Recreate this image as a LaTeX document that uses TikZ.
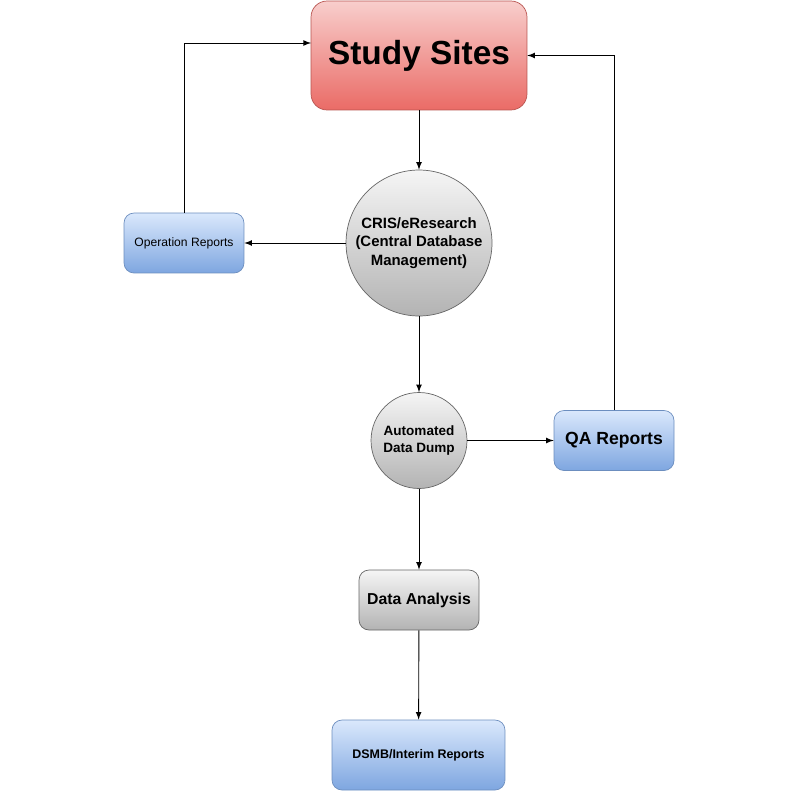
\documentclass[tikz,border=0pt]{standalone}
\usepackage{fontspec}
\setmainfont{Liberation Sans}
\usetikzlibrary{shapes,arrows,positioning,calc}

\definecolor{redtop}{HTML}{F8CECC}
\definecolor{redbot}{HTML}{EA6B66}
\definecolor{redline}{HTML}{B85450}
\definecolor{bluetop}{HTML}{DAE8FC}
\definecolor{bluebot}{HTML}{7EA6E0}
\definecolor{blueline}{HTML}{6C8EBF}
\definecolor{graytop}{HTML}{F5F5F5}
\definecolor{graybot}{HTML}{B3B3B3}
\definecolor{grayline}{HTML}{666666}

\tikzset{
  sitebox/.style={draw=redline, top color=redtop, bottom color=redbot, rounded corners=0.32cm,
    minimum width=4.32cm, minimum height=2.18cm, font=\fontsize{19}{23}\selectfont\bfseries},
  bluebox/.style={draw=blueline, top color=bluetop, bottom color=bluebot, rounded corners=0.2cm,
    minimum width=2.4cm, minimum height=1.2cm, align=center},
  graybox/.style={draw=grayline, top color=graytop, bottom color=graybot, rounded corners=0.2cm,
    minimum width=2.4cm, minimum height=1.2cm, align=center},
  graycirc/.style={circle, draw=grayline, top color=graytop, bottom color=graybot,
    inner sep=0pt, align=center},
  arr/.style={->, >=latex, line width=0.5pt}
}

\begin{document}
\begin{tikzpicture}[x=0.02cm, y=-0.02cm]
  \useasboundingbox (0,0) rectangle (800,791);

  % nodes
  \node[sitebox] (sites) at (419,55.5) {\raisebox{-2pt}{Study Sites}};
  \node[graycirc, minimum size=2.92cm, font=\fontsize{8.5}{10.5}\selectfont\bfseries] (cris) at (419,243)
    {CRIS/eResearch\\(Central Database\\Management)};
  \node[bluebox, font=\fontsize{6.9}{8.5}\selectfont] (ops) at (184,243) {Operation Reports};
  \node[graycirc, minimum size=1.92cm, font=\fontsize{7.7}{9.6}\selectfont\bfseries] (dump) at (419,440.5)
    {Automated\\Data Dump};
  \node[bluebox, font=\fontsize{10}{12}\selectfont\bfseries] (qa) at (614,440.5) {QA Reports};
  \node[graybox, font=\fontsize{9}{11}\selectfont\bfseries] (analysis) at (419,600) {Data Analysis};
  \node[bluebox, minimum width=3.46cm, minimum height=1.4cm, font=\fontsize{7.1}{8.5}\selectfont\bfseries]
    (dsmb) at (418.5,755) {DSMB/Interim Reports};
  \coordinate (sitesin) at (311,43);

  % connectors
  \draw[arr] (sites) -- (cris);
  \draw[arr] (cris) -- (ops);
  \draw[arr] (ops.north) |- (sitesin);
  \draw[arr] (cris) -- (dump);
  \draw[arr] (dump) -- (qa);
  \draw[arr] (qa.north) |- (sites.east);
  \draw[arr] (dump) -- (analysis);
  \draw[arr] (analysis) -- (dsmb);
\end{tikzpicture}
\end{document}
